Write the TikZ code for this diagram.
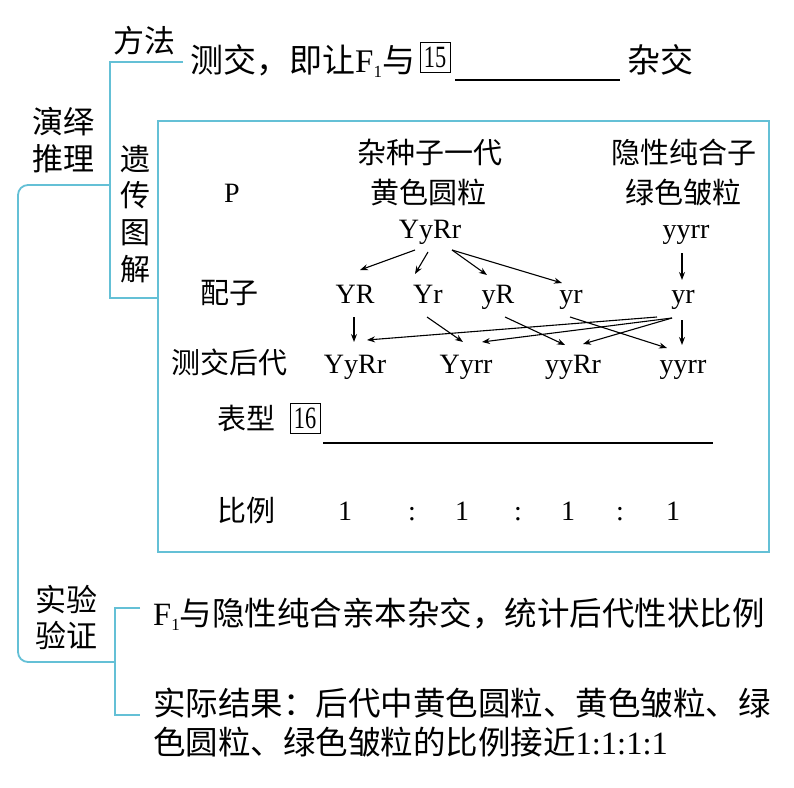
\documentclass[tikz,border=0pt]{standalone}
\usepackage{fontspec}
\setmainfont{Liberation Serif}
\newfontfamily\cjk{Noto Sans CJK SC}
\usetikzlibrary{arrows.meta}
\definecolor{cyanline}{RGB}{100,192,214}
\newcommand{\fs}[1]{\fontsize{#1}{#1}\selectfont}
\newcommand{\Fone}{{\rmfamily F\raisebox{-5pt}{\fs{17}1}}}
\newcommand{\boxnum}[1]{\scalebox{0.72}[1]{#1}}
\begin{document}
\begin{tikzpicture}[x=1pt,y=-1pt,
  conn/.style={draw=cyanline,line width=1.8pt},
  arr/.style={-{Stealth[length=8pt,width=6pt]},line width=1.1pt},
  lbl/.style={inner sep=0pt,anchor=base,font=\cjk\fs{29}},
  side/.style={inner sep=0pt,anchor=base,font=\cjk\fs{31}},
  big/.style={inner sep=0pt,anchor=base west,font=\cjk\fs{33}},
  low/.style={inner sep=0pt,anchor=base west,font=\cjk\fs{32.5}},
  geno/.style={inner sep=0pt,anchor=base,font=\fs{28}},
  numbox/.style={draw,line width=1pt,minimum size=30pt,inner sep=0pt,font=\fs{31}},
  uline/.style={line width=1.2pt}]
\useasboundingbox (0,0) rectangle (794,787);

% ---- connectors (cyan tree) ----
\draw[conn] (183,62) -- (110,62) -- (110,298) -- (158,298);
\draw[conn,rounded corners=10pt] (110,185) -- (18,185) -- (18,662) -- (115,662);
\draw[conn] (140,608) -- (115,608) -- (115,715) -- (140,715);
\draw[conn] (158,121) rectangle (769,552);

% ---- top: method ----
\node[side,anchor=base west] (fangfa) at (113,52) {方法};
\node[big] (method) at (190,72) {测交，即让\Fone 与};
\node[numbox] (b15) at (435,57) {\boxnum{15}};
\draw[uline] (455,80) -- (620,80);
\node[big] (zajiao) at (627,72) {杂交};

% ---- left labels ----
\node[side] (yanyi) at (63,133) {演绎};
\node[side] (tuili) at (63,170) {推理};
\node[side,font=\cjk\fs{30}] (yi) at (135,170) {遗};
\node[side,font=\cjk\fs{30}] (chuan) at (135,206) {传};
\node[side,font=\cjk\fs{30}] (tu) at (135,243) {图};
\node[side,font=\cjk\fs{30}] (jie) at (135,280) {解};
\node[side] (shiyan) at (66,611) {实验};
\node[side] (yanzheng) at (66,647) {验证};

% ---- genetic diagram ----
\node[lbl] (zazhong) at (430,163) {杂种子一代};
\node[lbl] (yinxing) at (684,163) {隐性纯合子};
\node[geno] (P) at (232,202) {P};
\node[lbl] (huangyuan) at (428,203) {黄色圆粒};
\node[lbl] (lvzhou) at (683,203) {绿色皱粒};
\node[geno] (pA) at (430,238) {YyRr};
\node[geno] (pB) at (686,238) {yyrr};

\node[lbl] (peizi) at (229,303) {配子};
\node[geno] (gYR) at (355,303) {YR};
\node[geno] (gYr) at (428,303) {Yr};
\node[geno] (gyR) at (498,303) {yR};
\node[geno] (gyr) at (571,303) {yr};
\node[geno] (gyr2) at (683,303) {yr};

\node[lbl] (houdai) at (229,373) {测交后代};
\node[geno] (o1) at (355,373) {YyRr};
\node[geno] (o2) at (466,373) {Yyrr};
\node[geno] (o3) at (573,373) {yyRr};
\node[geno] (o4) at (683,373) {yyrr};

% arrows P -> gametes
\draw[arr] ([shift={(-15,12)}]pA.base) -- ([shift={(5,-33)}]gYR.base);
\draw[arr] ([shift={(-2,14)}]pA.base) -- ([shift={(-13,-29)}]gYr.base);
\draw[arr] ([shift={(22,12)}]pA.base) -- ([shift={(-11,-28)}]gyR.base);
\draw[arr] ([shift={(22,12)}]pA.base) -- ([shift={(-9,-20)}]gyr.base);
\draw[arr] ([shift={(-4,15)}]pB.base) -- ([shift={(-1,-23)}]gyr2.base);

% arrows gametes -> offspring
\draw[arr] ([shift={(-1,14)}]gYR.base) -- ([shift={(-1,-31)}]o1.base);
\draw[arr] ([shift={(-1,14)}]gYr.base) -- ([shift={(-3,-31)}]o2.base);
\draw[arr] ([shift={(7,14)}]gyR.base) -- ([shift={(-8,-28)}]o3.base);
\draw[arr] ([shift={(-1,14)}]gyr.base) -- ([shift={(-16,-25)}]o4.base);
\draw[arr] ([shift={(-26,14)}]gyr2.base) -- ([shift={(12,-33)}]o1.base);
\draw[arr] ([shift={(-11,15)}]gyr2.base) -- ([shift={(16,-31)}]o2.base);
\draw[arr] ([shift={(-11,15)}]gyr2.base) -- ([shift={(10,-29)}]o3.base);
\draw[arr] ([shift={(-1,17)}]gyr2.base) -- ([shift={(-1,-28)}]o4.base);

% phenotype and ratio
\node[lbl,anchor=base west] (biaoxing) at (217,429) {表型};
\node[numbox] (b16) at (305,418) {\boxnum{16}};
\draw[uline] (323,443) -- (713,443);
\node[lbl,anchor=base west] (bili) at (217,521) {比例};
\node[geno] (r1) at (345,520) {1};
\node[geno] (c1) at (412,520) {:};
\node[geno] (r2) at (462,520) {1};
\node[geno] (c2) at (518,520) {:};
\node[geno] (r3) at (568,520) {1};
\node[geno] (c3) at (620,520) {:};
\node[geno] (r4) at (673,520) {1};

% ---- bottom: verification ----
\node[low] (exp1) at (153,625) {\Fone 与隐性纯合亲本杂交，统计后代性状比例};
\node[low] (exp2) at (153,715) {实际结果：后代中黄色圆粒、黄色皱粒、绿};
\node[low] (exp3) at (153,754) {色圆粒、绿色皱粒的比例接近{\rmfamily 1:1:1:1}};
\end{tikzpicture}
\end{document}
